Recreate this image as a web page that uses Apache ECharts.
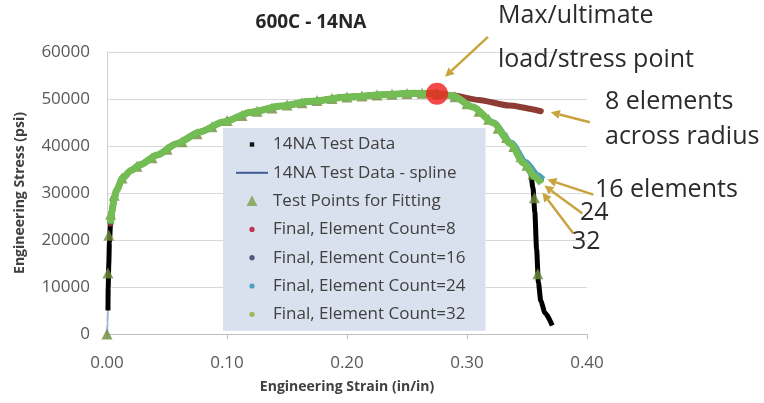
<!DOCTYPE html>
<html>
<head>
<meta charset="utf-8">
<script src="https://cdn.jsdelivr.net/npm/echarts@6/dist/echarts.min.js"></script>
<style>
  html, body { margin: 0; padding: 0; background: #ffffff; }
  #chart { width: 764px; height: 403px; }
</style>
</head>
<body>
<div id="chart"></div>
<script>
// Tick labels
const xTickLabels = ['0.00', '0.10', '0.20', '0.30', '0.40'];
const yTickLabels = ['0', '10000', '20000', '30000', '40000', '50000', '60000'];

// Series names
const seriesNames = [
  '14NA Test Data',
  '14NA Test Data - spline',
  'Test Points for Fitting',
  'Final, Element Count=8',
  'Final, Element Count=16',
  'Final, Element Count=24',
  'Final, Element Count=32'
];

// Measured engineering strain / stress (in/in, psi)
const testData = [
  [0.0008, 5000], [0.001, 10000], [0.0015, 15000], [0.002, 19500], [0.003, 23500],
  [0.004, 26000], [0.006, 28800], [0.008, 30600], [0.013, 33200], [0.02, 34800],
  [0.0275, 36000], [0.042, 38100], [0.058, 40500], [0.0775, 43000], [0.097, 45100],
  [0.12, 47200], [0.145, 48500], [0.17, 49500], [0.2, 50400], [0.23, 50900],
  [0.255, 51200], [0.275, 51100], [0.288, 50700], [0.305, 48300], [0.322, 44900],
  [0.336, 40600], [0.347, 36400], [0.353, 34300], [0.355, 31000], [0.3565, 26000],
  [0.358, 18000], [0.3595, 11000], [0.3615, 7000], [0.365, 4500], [0.371, 1800]
];

// Spline through the test data, starting at the origin
const splineStart = [[0, 0], [0.0004, 2500]];

// Points selected for fitting
const testPoints = [
  [0, 0], [0.0008, 13000], [0.0015, 21000], [0.003, 25500], [0.006, 29500],
  [0.0125, 33200], [0.025, 35700], [0.0375, 37500], [0.05, 39300], [0.0625, 40900],
  [0.075, 42600], [0.0875, 44100], [0.1, 45400], [0.1125, 46500], [0.125, 47400],
  [0.1375, 48100], [0.15, 48700], [0.1625, 49200], [0.175, 49700], [0.1875, 50100],
  [0.2, 50400], [0.2125, 50650], [0.225, 50850], [0.2375, 51000], [0.25, 51150],
  [0.2625, 51200], [0.275, 51100], [0.29, 50500], [0.3, 49000], [0.31, 47400],
  [0.318, 45700], [0.326, 43800], [0.333, 41800], [0.339, 39900], [0.345, 37700],
  [0.35, 35900], [0.355, 34000], [0.3562, 29000], [0.359, 12800]
];

// Fitted FE response common to all meshes up to the ultimate point
const fitRise = [
  [0.003, 23500], [0.004, 26000], [0.006, 28800], [0.008, 30600], [0.013, 33200],
  [0.02, 34800], [0.0275, 36000], [0.042, 38100], [0.058, 40500], [0.0775, 43000],
  [0.097, 45100], [0.12, 47200], [0.145, 48500], [0.17, 49500], [0.2, 50400],
  [0.23, 50900], [0.255, 51200], [0.275, 51100]
];

// Post-ultimate response per mesh density
const final8Tail = [[0.287, 50800], [0.31, 49800], [0.335, 48600], [0.3615, 47400]];
const final16Tail = [[0.288, 50700], [0.305, 48300], [0.322, 44900], [0.336, 40600], [0.347, 36500], [0.357, 33600], [0.3625, 32400]];
const final24Tail = [[0.288, 50700], [0.305, 48300], [0.322, 45000], [0.337, 40700], [0.349, 36600], [0.359, 33800], [0.3635, 32900]];
const final32Tail = [[0.288, 50700], [0.305, 48300], [0.322, 44900], [0.336, 40600], [0.347, 36400], [0.357, 33400], [0.362, 32000]];

// Ultimate load / stress point
const maxPoint = [[0.275, 51100]];

const FONT = '"Open Sans", "Noto Sans", sans-serif';
const GRAY = '#595959';

// Legend markers, drawn small inside a 32x14 icon box
const ICON_SQUARE = 'path://M0,0M32,14M13.8,4.8L18.2,4.8L18.2,9.2L13.8,9.2Z';
const ICON_DOT = 'path://M0,0M32,14M18.6,7A2.6,2.6,0,1,1,13.4,7A2.6,2.6,0,1,1,18.6,7Z';
const ICON_TRI = 'path://M0,0M32,14M16,1.5L21.5,12L10.5,12Z';
const ICON_LINE = 'path://M0,0M32,14M0,6L32,6L32,8L0,8Z';

const chart = echarts.init(document.getElementById('chart'), null, { renderer: 'canvas' });

const option = {
  animation: false,
  backgroundColor: '#ffffff',
  title: {
    text: '600C - 14NA',
    left: 306,
    top: 8,
    textAlign: 'center',
    textStyle: { fontFamily: FONT, fontSize: 19, fontWeight: 'bold', color: '#262626' }
  },
  grid: { left: 107, right: 177, top: 52, bottom: 69 },
  legend: {
    orient: 'vertical',
    left: 223,
    top: 128,
    padding: [8, 20, 8, 13],
    backgroundColor: '#d9e1ee',
    itemWidth: 32,
    itemHeight: 14,
    itemGap: 11.3,
    selectedMode: false,
    itemStyle: { borderWidth: 0 },
    textStyle: { fontFamily: FONT, fontSize: 17, color: '#404040' },
    data: [
      { name: seriesNames[0], icon: ICON_SQUARE, itemStyle: { color: '#111111' } },
      { name: seriesNames[1], icon: ICON_LINE, itemStyle: { color: '#3f5a96' } },
      { name: seriesNames[2], icon: ICON_TRI, itemStyle: { color: '#7e9d48' } },
      { name: seriesNames[3], icon: ICON_DOT, itemStyle: { color: '#c0314d' } },
      { name: seriesNames[4], icon: ICON_DOT, itemStyle: { color: '#4f5b76' } },
      { name: seriesNames[5], icon: ICON_DOT, itemStyle: { color: '#4b9fc0' } },
      { name: seriesNames[6], icon: ICON_DOT, itemStyle: { color: '#9bbb59' } }
    ]
  },
  xAxis: {
    type: 'value',
    min: 0,
    max: 0.4,
    interval: 0.1,
    name: 'Engineering Strain (in/in)',
    nameLocation: 'middle',
    nameGap: 46,
    nameTextStyle: { fontFamily: FONT, fontSize: 14, fontWeight: 'bold', color: '#404040' },
    axisLine: { show: true, lineStyle: { color: '#bfbfbf', width: 1 } },
    axisTick: { show: true, inside: false, length: 5, lineStyle: { color: '#bfbfbf' } },
    axisLabel: {
      fontFamily: FONT, fontSize: 17, color: GRAY, margin: 21,
      formatter: v => xTickLabels[Math.round(v / 0.1)]
    },
    splitLine: { show: false }
  },
  yAxis: {
    type: 'value',
    min: 0,
    max: 60000,
    interval: 10000,
    name: 'Engineering Stress (psi)',
    nameLocation: 'middle',
    nameGap: 80,
    nameTextStyle: { fontFamily: FONT, fontSize: 14, fontWeight: 'bold', color: '#404040' },
    axisLine: { show: true, lineStyle: { color: '#d0d0d0', width: 1 } },
    axisTick: { show: false },
    axisLabel: {
      fontFamily: FONT, fontSize: 17, color: GRAY, margin: 17,
      formatter: v => yTickLabels[Math.round(v / 10000)]
    },
    splitLine: { show: true, lineStyle: { color: '#d9d9d9', width: 1.2 } }
  },
  series: [
    {
      name: seriesNames[0], type: 'line', data: testData, symbol: 'none',
      smooth: 0.25, smoothMonotone: 'x',
      lineStyle: { color: '#000000', width: 5 }, itemStyle: { color: '#000000' }, z: 2, silent: true
    },
    {
      name: seriesNames[1], type: 'line', data: splineStart.concat(testData), symbol: 'none',
      smooth: 0.25, smoothMonotone: 'x',
      lineStyle: { color: '#9db3d4', width: 2 }, itemStyle: { color: '#3f5a96' }, z: 1, silent: true
    },
    {
      name: seriesNames[2], type: 'scatter', data: testPoints, symbol: 'triangle', symbolSize: 11,
      itemStyle: { color: '#6f8d3a' }, z: 3, silent: true
    },
    {
      name: seriesNames[3], type: 'line', data: fitRise.concat(final8Tail), symbol: 'none',
      smooth: 0.2, smoothMonotone: 'x',
      lineStyle: { color: '#8e3b33', width: 6, cap: 'round' }, itemStyle: { color: '#c0314d' }, z: 4, silent: true
    },
    {
      name: seriesNames[4], type: 'line', data: fitRise.concat(final16Tail), symbol: 'none',
      smooth: 0.25, smoothMonotone: 'x',
      lineStyle: { color: '#4f5b76', width: 6 }, itemStyle: { color: '#4f5b76' }, z: 5, silent: true
    },
    {
      name: seriesNames[5], type: 'line', data: fitRise.concat(final24Tail), symbol: 'none',
      smooth: 0.25, smoothMonotone: 'x',
      lineStyle: { color: '#4b9fc0', width: 6 }, itemStyle: { color: '#4b9fc0' }, z: 6, silent: true
    },
    {
      name: seriesNames[6], type: 'line', data: fitRise.concat(final32Tail), symbol: 'none',
      smooth: 0.25, smoothMonotone: 'x',
      lineStyle: { color: '#74bd55', width: 7 }, itemStyle: { color: '#9bbb59' }, z: 7, silent: true
    },
    {
      name: 'Ultimate point', type: 'scatter', data: maxPoint, symbol: 'circle', symbolSize: 22,
      itemStyle: { color: '#f01c1c' }, z: 8, silent: true
    }
  ]
};

chart.setOption(option);

// Callout arrows, anchored to the points they describe
const toPx = p => chart.convertToPixel({ gridIndex: 0 }, p);
const ARROW = '#c9a43e';

function arrow(anchor, tailOff, tipOff) {
  const a = toPx(anchor);
  const tail = [a[0] + tailOff[0], a[1] + tailOff[1]];
  const tip = [a[0] + tipOff[0], a[1] + tipOff[1]];
  const dx = tip[0] - tail[0], dy = tip[1] - tail[1];
  const len = Math.hypot(dx, dy);
  const ux = dx / len, uy = dy / len;
  const hl = 9, hw = 4.5;
  const base = [tip[0] - ux * hl, tip[1] - uy * hl];
  return [
    {
      type: 'line', silent: true, z: 20,
      shape: { x1: tail[0], y1: tail[1], x2: base[0], y2: base[1] },
      style: { stroke: ARROW, lineWidth: 2.5 }
    },
    {
      type: 'polygon', silent: true, z: 20,
      shape: { points: [tip, [base[0] - uy * hw, base[1] + ux * hw], [base[0] + uy * hw, base[1] - ux * hw]] },
      style: { fill: ARROW }
    }
  ];
}

function label(text, x, y) {
  return {
    type: 'text', silent: true, z: 21, x: x, y: y,
    style: { text: text, font: '25px "Open Sans", "Noto Sans", sans-serif', fill: '#2b2b2b', align: 'left', verticalAlign: 'middle' }
  };
}

const end8 = final8Tail[final8Tail.length - 1];
const end32 = final32Tail[final32Tail.length - 1];

const graphics = [].concat(
  arrow(maxPoint[0], [51, -57], [8, -17]),
  arrow(end8, [49, 11], [10, 1]),
  arrow(end32, [52, 11], [6, -4]),
  arrow(end32, [41, 30], [3, 2]),
  arrow(end32, [32, 50], [1, 9]),
  [
    label('Max/ultimate', 498, 16),
    label('load/stress point', 498, 60),
    label('8 elements', 605, 102),
    label('across radius', 605, 137),
    label('16 elements', 595, 190),
    label('24', 580, 213),
    label('32', 572, 242)
  ]
);

chart.setOption({ graphic: graphics });
</script>
</body>
</html>
